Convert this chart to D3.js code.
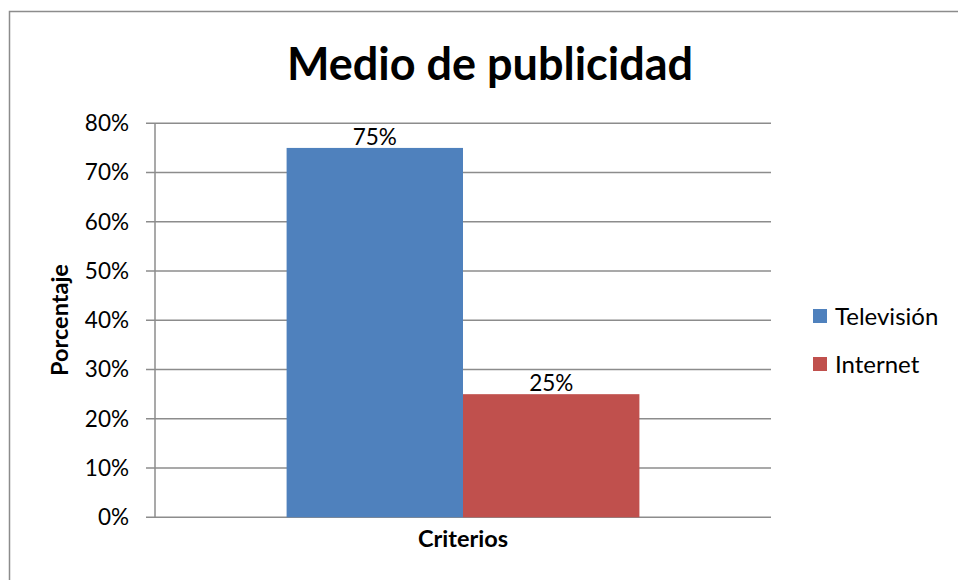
<!DOCTYPE html>
<html><head><meta charset="utf-8">
<script src="https://cdn.jsdelivr.net/npm/d3@7"></script>
<style>body{margin:0;background:#fff}svg{display:block}</style>
</head><body><svg id="c" width="958" height="580"></svg>
<script>
const title = "Medio de publicidad";
const categories = ["Criterios"];
const seriesNames = ["Televisión", "Internet"];
const seriesValues = [0.75, 0.25];
const seriesColors = ["#4F81BD", "#C0504D"];
const yTicks = [0, 0.1, 0.2, 0.3, 0.4, 0.5, 0.6, 0.7, 0.8];
const yTitle = "Porcentaje";

const font = "Lato, 'Open Sans', sans-serif";
const svg = d3.select("#c");
svg.append("rect").attr("x", 9.5).attr("y", 11.5).attr("width", 1000).attr("height", 1000)
  .attr("fill", "#fff").attr("stroke", "#8c8c8c").attr("stroke-width", 1.5);

const L = 155, R = 771, T = 123.3, B = 517.3;
const y = d3.scaleLinear().domain([0, 0.8]).range([B, T]);
const x0 = d3.scaleBand().domain(categories).range([L, R]).paddingInner(0).paddingOuter(0.373);
const x1 = d3.scaleBand().domain(seriesNames).range([0, x0.bandwidth()]);

// gridlines (with left tick marks)
svg.append("g").selectAll("line").data(yTicks).join("line")
  .attr("x1", L - 9).attr("x2", R).attr("y1", d => y(d)).attr("y2", d => y(d))
  .attr("stroke", "#8c8c8c").attr("stroke-width", 1.5);

// y axis
const yAxis = d3.axisLeft(y).tickValues(yTicks).tickFormat(d3.format(".0%")).tickSize(0).tickPadding(26);
const ga = svg.append("g").attr("transform", `translate(${L},0)`).call(yAxis);
ga.select(".domain").remove();
ga.selectAll("text").attr("font-family", font).attr("font-size", 22.5).attr("fill", "#000");
svg.append("line").attr("x1", L).attr("x2", L).attr("y1", T).attr("y2", B)
  .attr("stroke", "#8c8c8c").attr("stroke-width", 1.5);

// bars
const g = svg.append("g");
categories.forEach(c => {
  seriesNames.forEach((s, i) => {
    const v = seriesValues[i];
    const bx = x0(c) + x1(s);
    g.append("rect").attr("x", bx).attr("y", y(v)).attr("width", x1.bandwidth()).attr("height", y(0) - y(v))
      .attr("fill", seriesColors[i]);
    g.append("text").attr("x", bx + x1.bandwidth() / 2).attr("y", y(v) - 3).attr("text-anchor", "middle")
      .attr("font-family", font).attr("font-size", 22.5).attr("fill", "#000").text(d3.format(".0%")(v));
  });
});

// x axis label
svg.append("text").attr("x", x0(categories[0]) + x0.bandwidth() / 2).attr("y", 547).attr("text-anchor", "middle")
  .attr("font-family", font).attr("font-weight", "bold").attr("font-size", 23.5).text(categories[0]);

// title
svg.append("text").attr("x", 490).attr("y", 80).attr("text-anchor", "middle")
  .attr("font-family", font).attr("font-weight", "bold").attr("font-size", 45).text(title);

// y title
svg.append("text").attr("transform", "translate(68,320) rotate(-90)").attr("text-anchor", "middle")
  .attr("font-family", font).attr("font-weight", "bold").attr("font-size", 23.5).text(yTitle);

// legend
const lg = svg.append("g");
seriesNames.forEach((s, i) => {
  const cy = 316 + i * 48;
  lg.append("rect").attr("x", 813).attr("y", cy - 7).attr("width", 14).attr("height", 14).attr("fill", seriesColors[i]);
  lg.append("text").attr("x", 835).attr("y", cy + 8.5).attr("font-family", font).attr("font-size", 24).text(s);
});
</script></body></html>
